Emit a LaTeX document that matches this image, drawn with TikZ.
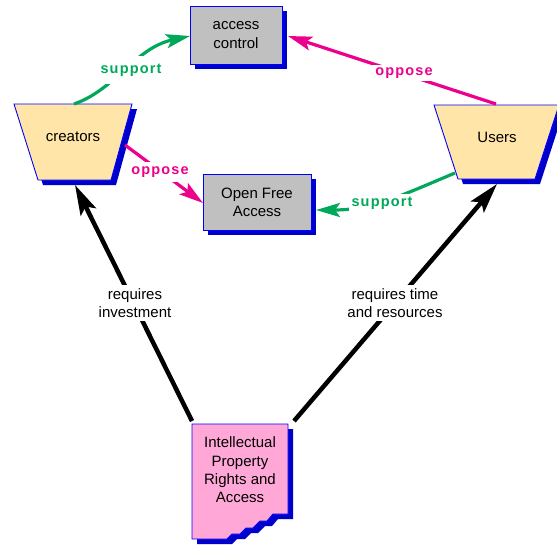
\documentclass[tikz,border=0pt]{standalone}
\usepackage{fontspec}
\setmainfont{Liberation Sans}
\newfontfamily\lblfont[LetterSpace=8]{Liberation Sans}
\usetikzlibrary{arrows.meta,shadows}
\definecolor{sgreen}{HTML}{00A859}
\definecolor{opink}{HTML}{EC008C}
\definecolor{shadowblue}{HTML}{0000CC}
\definecolor{edgeblue}{HTML}{0000FF}
\definecolor{boxgray}{HTML}{C0C0C0}
\definecolor{tanfill}{HTML}{FFE6A8}
\definecolor{ippink}{HTML}{FFA8D8}
\begin{document}
\begin{tikzpicture}[x=1pt,y=-1pt,
  txt/.style={font=\fontsize{15}{18.3}\selectfont, align=center, text=black, inner sep=0pt},
  graybox/.style={txt, draw=edgeblue, line width=0.9pt, fill=boxgray,
    drop shadow={shadow xshift=5pt, shadow yshift=-5pt, fill=shadowblue, opacity=1}},
  shapeline/.style={draw=edgeblue, line width=0.9pt},
  greenarrow/.style={draw=sgreen, line width=3.2pt, -{Stealth[length=24pt,width=14pt,inset=5pt]}},
  pinkarrow/.style={draw=opink, line width=3.2pt, -{Stealth[length=24pt,width=14pt,inset=5pt]}},
  blackarrow/.style={draw=black, line width=4.5pt, -{Stealth[length=30pt,width=17pt,inset=6pt]}},
  lblgreen/.style={font=\lblfont\bfseries\fontsize{14.5}{17}\selectfont, text=sgreen, fill=white, inner sep=3pt},
  lblpink/.style={font=\lblfont\bfseries\fontsize{14.5}{17}\selectfont, text=opink, fill=white, inner sep=3pt},
  lblblack/.style={txt, fill=white, inner sep=3pt}]
\useasboundingbox (0,0) rectangle (557,544);

% boxes
\node[graybox, minimum width=92pt, minimum height=58pt] (ac) at (236,35) {access\\control};
\node[graybox, minimum width=108pt, minimum height=56pt] (ofa) at (257,202) {Open Free\\Access};

% creators trapezoid
\fill[shadowblue, shift={(5,5)}] (14,104)--(132,104)--(111,180)--(38,180)--cycle;
\filldraw[shapeline, fill=tanfill] (14,104)--(132,104)--(111,180)--(38,180)--cycle;
\node[txt] (cr) at (73,137) {creators};

% users trapezoid
\fill[shadowblue, shift={(5,5)}] (434,105)--(559,105)--(535,179)--(458,179)--cycle;
\filldraw[shapeline, fill=tanfill] (434,105)--(559,105)--(535,179)--(458,179)--cycle;
\node[txt] (us) at (497,137) {Users};

% IP document
\fill[shadowblue, shift={(5,5)}] (192,424)--(288,424)--(288,514)--(273,514)--(267,521)--(260,521)--(253,528)--(246,528)--(240,534)--(232,534)--(227,539)--(192,539)--cycle;
\filldraw[shapeline, fill=ippink] (192,424)--(288,424)--(288,514)--(273,514)--(267,521)--(260,521)--(253,528)--(246,528)--(240,534)--(232,534)--(227,539)--(192,539)--cycle;
\node[txt] (ip) at (240,470) {Intellectual\\Property\\Rights and\\Access};

% anchor coordinates
\coordinate (crtop) at (74,104);
\coordinate (crright) at (125,145);
\coordinate (crbot) at (75,185);
\coordinate (ustop) at (496,104);
\coordinate (usleft) at (455,173);
\coordinate (usbot) at (497,184);
\coordinate (acleft) at (190,36);
\coordinate (acright) at (288,36);
\coordinate (ofaleft) at (203,203);
\coordinate (ofaright) at (316,210);
\coordinate (iptl) at (192,421);
\coordinate (iptr) at (294,421);

% connectors
\draw[greenarrow] (crtop) .. controls (115,90) and (135,48) .. (acleft);
\draw[pinkarrow] (ustop) -- (acright);
\draw[pinkarrow] (crright) -- (ofaleft);
\draw[greenarrow] (usleft) .. controls (400,196) and (372,210) .. (ofaright);
\draw[blackarrow] (iptl) -- (crbot);
\draw[blackarrow] (iptr) -- (usbot);

% labels
\node[lblgreen, inner ysep=8pt] (l1) at (131,70) {support};
\node[lblpink] (l2) at (404,73) {oppose};
\node[lblpink, inner ysep=5pt] (l3) at (160,172) {oppose};
\node[lblgreen] (l4) at (382,203) {support};
\node[lblblack] (l5) at (135,303) {requires\\investment};
\node[lblblack] (l6) at (395,303) {requires time\\and resources};
\end{tikzpicture}
\end{document}
